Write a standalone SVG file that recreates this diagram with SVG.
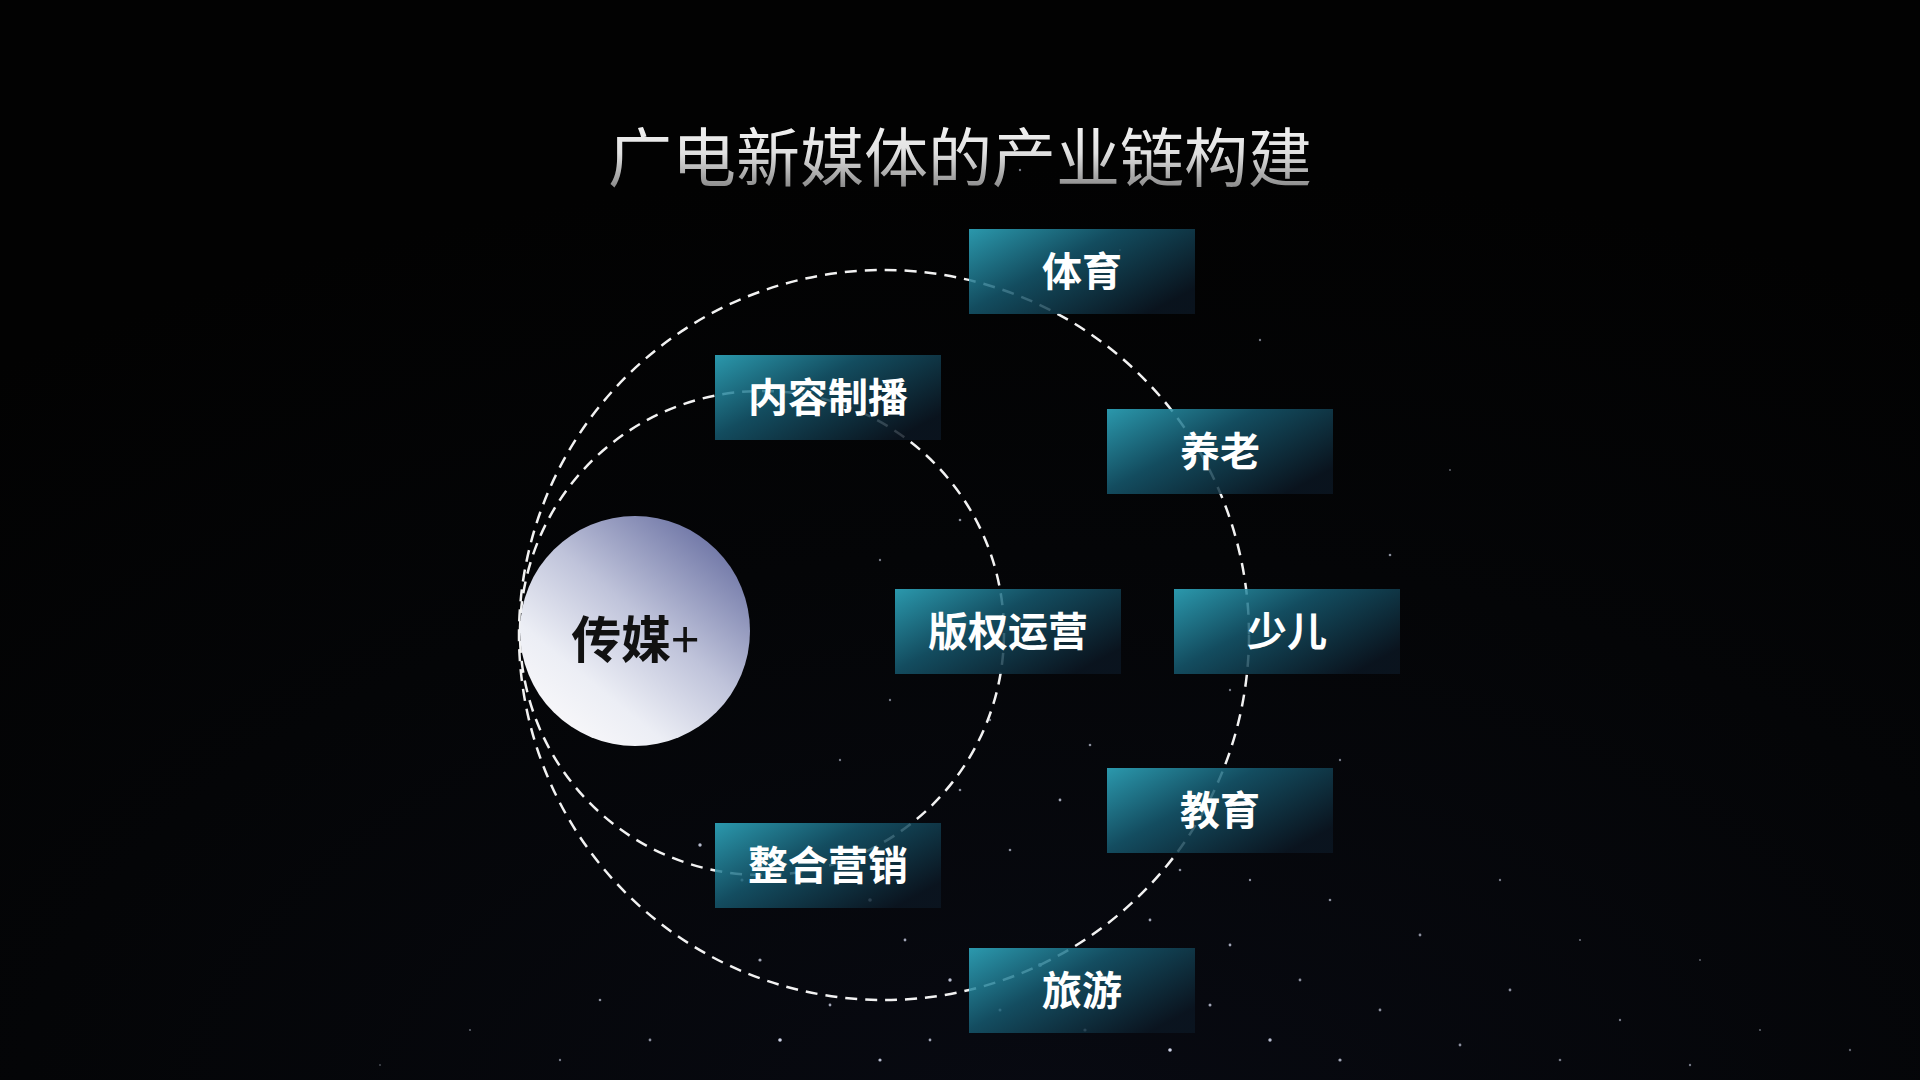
<svg xmlns="http://www.w3.org/2000/svg" width="1920" height="1080" viewBox="0 0 1920 1080">
<defs>
<radialGradient id="bg" cx="0.55" cy="1.05" r="0.9">
<stop offset="0" stop-color="#080a12"/>
<stop offset="0.6" stop-color="#040507"/>
<stop offset="1" stop-color="#020202"/>
</radialGradient>
<linearGradient id="titleGrad" x1="0" y1="0" x2="0" y2="1">
<stop offset="0" stop-color="#ffffff"/>
<stop offset="0.5" stop-color="#e0e0e0"/>
<stop offset="1" stop-color="#6e6e6e"/>
</linearGradient>
<linearGradient id="boxGrad" x1="0" y1="0" x2="1" y2="0.7">
<stop offset="0" stop-color="#32b4cc"/>
<stop offset="0.45" stop-color="#165a70"/>
<stop offset="1" stop-color="#0b1622"/>
</linearGradient>
<linearGradient id="ballGrad" x1="0.85" y1="0.1" x2="0.2" y2="0.9">
<stop offset="0" stop-color="#6f76a6"/>
<stop offset="0.45" stop-color="#bfc3da"/>
<stop offset="0.8" stop-color="#eceef5"/>
<stop offset="1" stop-color="#f6f6f9"/>
</linearGradient>
<style>
.ring{fill:none;stroke:#f2f2f2;stroke-width:2.5;stroke-dasharray:12 8}
.box{fill:url(#boxGrad);opacity:0.84}
.lbl{font-family:"Noto Sans CJK SC","Noto Sans",sans-serif;font-weight:700;font-size:40px;fill:#ffffff;text-anchor:middle}
.star{fill:#e4eaff}
</style>
</defs>
<rect width="1920" height="1080" fill="url(#bg)"/>
<g id="stars">
<circle class="star" cx="1020" cy="170" r="1.2" opacity="0.5"/>
<circle class="star" cx="1120" cy="250" r="1" opacity="0.4"/>
<circle class="star" cx="1260" cy="340" r="1.2" opacity="0.5"/>
<circle class="star" cx="1390" cy="555" r="1.3" opacity="0.6"/>
<circle class="star" cx="1450" cy="470" r="1" opacity="0.4"/>
<circle class="star" cx="700" cy="845" r="1.7" opacity="0.8"/>
<circle class="star" cx="742" cy="880" r="1.5" opacity="0.7"/>
<circle class="star" cx="810" cy="860" r="1.4" opacity="0.7"/>
<circle class="star" cx="870" cy="900" r="1.8" opacity="0.9"/>
<circle class="star" cx="905" cy="940" r="1.4" opacity="0.7"/>
<circle class="star" cx="950" cy="980" r="1.7" opacity="0.8"/>
<circle class="star" cx="1000" cy="1010" r="1.5" opacity="0.8"/>
<circle class="star" cx="1040" cy="965" r="2" opacity="0.9"/>
<circle class="star" cx="1085" cy="1030" r="1.6" opacity="0.8"/>
<circle class="star" cx="1120" cy="990" r="1.4" opacity="0.7"/>
<circle class="star" cx="1170" cy="1050" r="1.8" opacity="0.9"/>
<circle class="star" cx="1210" cy="1005" r="1.5" opacity="0.7"/>
<circle class="star" cx="1230" cy="945" r="1.4" opacity="0.7"/>
<circle class="star" cx="1270" cy="1040" r="1.7" opacity="0.8"/>
<circle class="star" cx="1300" cy="980" r="1.4" opacity="0.6"/>
<circle class="star" cx="1340" cy="1060" r="1.6" opacity="0.7"/>
<circle class="star" cx="1380" cy="1010" r="1.4" opacity="0.6"/>
<circle class="star" cx="1420" cy="935" r="1.4" opacity="0.6"/>
<circle class="star" cx="1460" cy="1045" r="1.4" opacity="0.6"/>
<circle class="star" cx="1510" cy="990" r="1.4" opacity="0.6"/>
<circle class="star" cx="1560" cy="1060" r="1.3" opacity="0.5"/>
<circle class="star" cx="1620" cy="1020" r="1.2" opacity="0.5"/>
<circle class="star" cx="1690" cy="1065" r="1.2" opacity="0.5"/>
<circle class="star" cx="1760" cy="1030" r="1.1" opacity="0.4"/>
<circle class="star" cx="1850" cy="1050" r="1.2" opacity="0.4"/>
<circle class="star" cx="600" cy="1000" r="1.3" opacity="0.6"/>
<circle class="star" cx="560" cy="1060" r="1.2" opacity="0.5"/>
<circle class="star" cx="650" cy="1040" r="1.4" opacity="0.6"/>
<circle class="star" cx="470" cy="1030" r="1.1" opacity="0.4"/>
<circle class="star" cx="380" cy="1065" r="1" opacity="0.3"/>
<circle class="star" cx="760" cy="960" r="1.6" opacity="0.7"/>
<circle class="star" cx="780" cy="1040" r="1.8" opacity="0.9"/>
<circle class="star" cx="830" cy="1005" r="1.4" opacity="0.7"/>
<circle class="star" cx="880" cy="1060" r="1.6" opacity="0.8"/>
<circle class="star" cx="930" cy="1040" r="1.4" opacity="0.7"/>
<circle class="star" cx="1150" cy="920" r="1.4" opacity="0.7"/>
<circle class="star" cx="1180" cy="870" r="1.3" opacity="0.6"/>
<circle class="star" cx="1250" cy="880" r="1.2" opacity="0.6"/>
<circle class="star" cx="1330" cy="900" r="1.3" opacity="0.6"/>
<circle class="star" cx="1090" cy="745" r="1.3" opacity="0.6"/>
<circle class="star" cx="1060" cy="800" r="1.4" opacity="0.7"/>
<circle class="star" cx="1010" cy="850" r="1.3" opacity="0.6"/>
<circle class="star" cx="990" cy="720" r="1.2" opacity="0.5"/>
<circle class="star" cx="960" cy="790" r="1.3" opacity="0.6"/>
<circle class="star" cx="840" cy="760" r="1.2" opacity="0.5"/>
<circle class="star" cx="890" cy="700" r="1.2" opacity="0.5"/>
<circle class="star" cx="960" cy="520" r="1.3" opacity="0.6"/>
<circle class="star" cx="880" cy="560" r="1.2" opacity="0.5"/>
<circle class="star" cx="1230" cy="690" r="1.2" opacity="0.5"/>
<circle class="star" cx="1340" cy="760" r="1.2" opacity="0.5"/>
<circle class="star" cx="1500" cy="880" r="1.2" opacity="0.5"/>
<circle class="star" cx="1580" cy="940" r="1.1" opacity="0.45"/>
<circle class="star" cx="1700" cy="960" r="1" opacity="0.4"/>
</g>
<text x="960" y="181" font-family="Noto Sans CJK SC,sans-serif" font-size="64" fill="url(#titleGrad)" text-anchor="middle">广电新媒体的产业链构建</text>
<g id="connectors">
<circle class="ring" cx="884" cy="635" r="365"/>
<circle class="ring" cx="762" cy="633" r="242"/>
</g>
<g id="node-center">
<circle cx="635" cy="631" r="115" fill="url(#ballGrad)"/>
<text x="635" y="658" font-family="Noto Sans CJK SC,sans-serif" font-weight="700" font-size="50" fill="#111111" text-anchor="middle">传媒<tspan font-weight="400">+</tspan></text>
</g>
<g id="node-tiyu"><rect class="box" x="969" y="229" width="226" height="85"/><text class="lbl" x="1082" y="286">体育</text></g>
<g id="node-neirong"><rect class="box" x="715" y="355" width="226" height="85"/><text class="lbl" x="828" y="412">内容制播</text></g>
<g id="node-yanglao"><rect class="box" x="1107" y="409" width="226" height="85"/><text class="lbl" x="1220" y="466">养老</text></g>
<g id="node-banquan"><rect class="box" x="895" y="589" width="226" height="85"/><text class="lbl" x="1008" y="646">版权运营</text></g>
<g id="node-shaoer"><rect class="box" x="1174" y="589" width="226" height="85"/><text class="lbl" x="1287" y="646">少儿</text></g>
<g id="node-jiaoyu"><rect class="box" x="1107" y="768" width="226" height="85"/><text class="lbl" x="1220" y="825">教育</text></g>
<g id="node-zhenghe"><rect class="box" x="715" y="823" width="226" height="85"/><text class="lbl" x="828" y="880">整合营销</text></g>
<g id="node-lvyou"><rect class="box" x="969" y="948" width="226" height="85"/><text class="lbl" x="1082" y="1005">旅游</text></g>
</svg>
